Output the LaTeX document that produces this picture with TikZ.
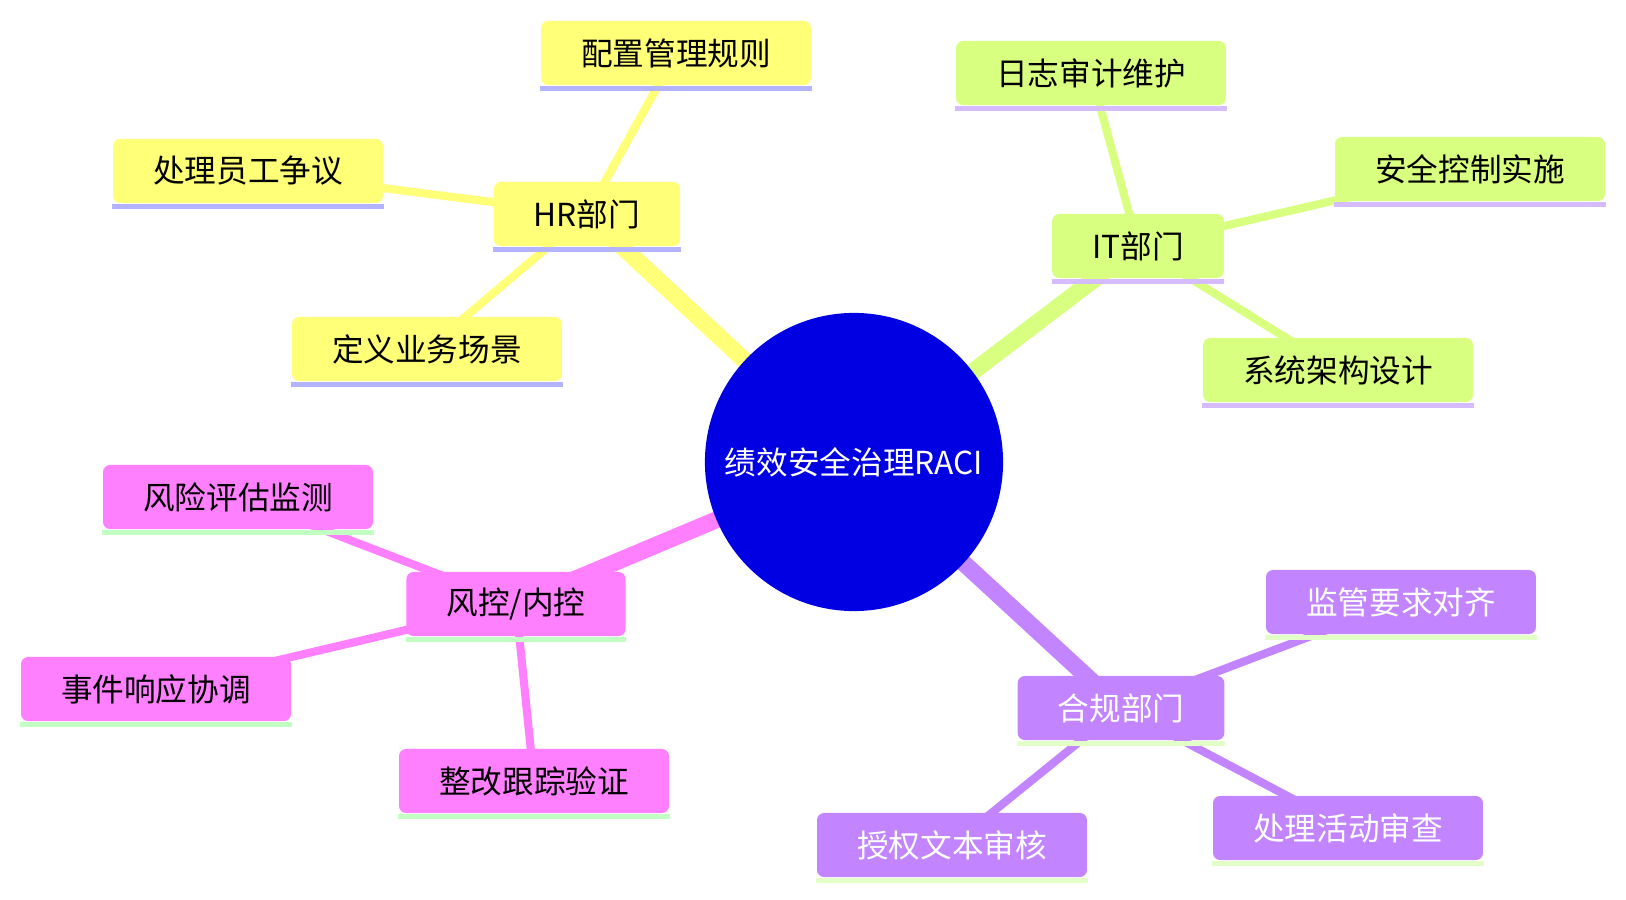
\documentclass[tikz,border=0pt]{standalone}
\usepackage{fontspec}
\setmainfont{Noto Sans CJK SC}
\usetikzlibrary{backgrounds}

\definecolor{rootblue}{HTML}{0000E3}
\definecolor{hrfill}{HTML}{FFFF78}
\definecolor{hrline}{HTML}{B3B3FF}
\definecolor{itfill}{HTML}{D9FF80}
\definecolor{itline}{HTML}{D5BBFF}
\definecolor{rkfill}{HTML}{FF80FF}
\definecolor{rkline}{HTML}{C2FFC2}
\definecolor{cpfill}{HTML}{C284FF}
\definecolor{cpline}{HTML}{E2FFC8}

\begin{document}
\begin{tikzpicture}[x=0.01cm, y=-0.01cm, font=\fontsize{9}{11}\selectfont,
		box/.style={rounded corners=2pt, inner xsep=0.4cm, inner ysep=0pt, minimum height=0.64cm},
		trunk/.style={line width=4.8pt},
		twig/.style={line width=2.3pt}]
	\useasboundingbox (0,0) rectangle (1626,900);
	% root
	\node [circle, fill=rootblue, text=white, minimum size=2.98cm, inner sep=0pt] (root) at (854,462) {绩效安全治理RACI};
	% HR
	\node [box, fill=hrfill] (hr) at (587,214) {HR部门};
	\node [box, fill=hrfill] (hr1) at (676,53) {配置管理规则};
	\node [box, fill=hrfill] (hr2) at (248,171) {处理员工争议};
	\node [box, fill=hrfill] (hr3) at (427,349) {定义业务场景};
	% IT
	\node [box, fill=itfill] (it) at (1138,246) {IT部门};
	\node [box, fill=itfill] (it1) at (1091,73) {日志审计维护};
	\node [box, fill=itfill] (it2) at (1470,169) {安全控制实施};
	\node [box, fill=itfill] (it3) at (1338,370) {系统架构设计};
	% risk
	\node [box, fill=rkfill] (rk) at (516,604) {风控/内控};
	\node [box, fill=rkfill] (rk1) at (238,497) {风险评估监测};
	\node [box, fill=rkfill] (rk2) at (156,689) {事件响应协调};
	\node [box, fill=rkfill] (rk3) at (534,781) {整改跟踪验证};
	% compliance
	\node [box, fill=cpfill, text=white] (cp) at (1121,708) {合规部门};
	\node [box, fill=cpfill, text=white] (cp1) at (1401,602) {监管要求对齐};
	\node [box, fill=cpfill, text=white] (cp2) at (1348,828) {处理活动审查};
	\node [box, fill=cpfill, text=white] (cp3) at (952,845) {授权文本审核};
	% underlines
	\foreach \n/\c in {hr/hrline, hr1/hrline, hr2/hrline, hr3/hrline,
			it/itline, it1/itline, it2/itline, it3/itline,
			rk/rkline, rk1/rkline, rk2/rkline, rk3/rkline,
			cp/cpline, cp1/cpline, cp2/cpline, cp3/cpline}
		\draw [line width=1.4pt, \c] ([yshift=-0.7pt]\n.south west) -- ([yshift=-0.7pt]\n.south east);
	% edges
	\begin{scope}[on background layer]
		\draw [trunk, hrfill] (root.center) -- (hr.center);
		\draw [trunk, itfill] (root.center) -- (it.center);
		\draw [trunk, rkfill] (root.center) -- (rk.center);
		\draw [trunk, cpfill] (root.center) -- (cp.center);
		\foreach \a/\b/\c in {hr/hr1/hrfill, hr/hr2/hrfill, hr/hr3/hrfill,
				it/it1/itfill, it/it2/itfill, it/it3/itfill,
				rk/rk1/rkfill, rk/rk2/rkfill, rk/rk3/rkfill,
				cp/cp1/cpfill, cp/cp2/cpfill, cp/cp3/cpfill}
			\draw [twig, \c] (\a.center) -- (\b.center);
	\end{scope}
\end{tikzpicture}
\end{document}
